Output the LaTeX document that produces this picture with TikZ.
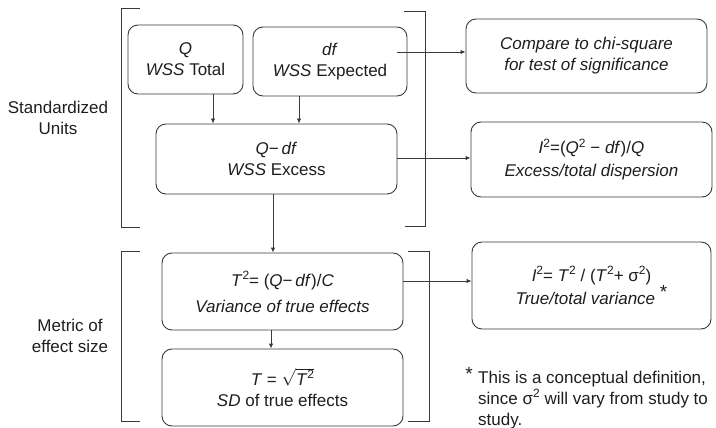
\documentclass[tikz,border=0pt]{standalone}
\usepackage{fontspec}
\setmainfont{Liberation Sans}
\usetikzlibrary{arrows.meta}
\definecolor{ink}{HTML}{1E1E1E}
\definecolor{edge}{HTML}{3A3A3A}
\newcommand{\sq}{\raisebox{0.40em}{\fontsize{12}{12}\selectfont 2}}
\newcommand{\myast}{\raisebox{0.36em}{\fontsize{19}{19}\selectfont\upshape *}}
\begin{document}
\begin{tikzpicture}[x=1pt,y=-1pt,
  every node/.style={text=ink, font=\fontsize{17}{21}\selectfont},
  box/.style={draw=edge, line width=0.9pt, rounded corners=10pt, align=center, inner sep=0pt},
  arr/.style={draw=edge, line width=0.9pt, -{Latex[length=5pt,width=4.5pt]}},
  brk/.style={draw=edge, line width=0.9pt},
  lbl/.style={align=center, inner sep=0pt}]
\useasboundingbox (0,0) rectangle (716,428);

% boxes
\node[box, minimum width=115pt, minimum height=69pt] (Q) at (185.5,59.5) {\textit{Q}\\\textit{WSS} Total};
\node[box, minimum width=154pt, minimum height=69pt] (df) at (330,61.5) {\textit{df}\\\textit{WSS} Expected};
\node[box, minimum width=241pt, minimum height=70pt] (X) at (276.5,159) {\textit{Q}−\,\textit{df}\\\textit{WSS} Excess};
\node[box, minimum width=241pt, minimum height=77pt] (T2) at (282.5,291.5) {\textit{T}\sq= (\textit{Q}−\,\textit{df})/\textit{C}\\[5pt]\textit{Variance of true effects}};
\node[box, minimum width=241pt, minimum height=77pt] (T) at (282.5,387.5) {\textit{T} = $\sqrt{\mbox{\textit{T}\sq}}$\\\textit{SD} of true effects};
\node[box, minimum width=241pt, minimum height=74pt] (chi) at (586.5,56) {\textit{Compare to chi-square}\\\textit{for test of significance}};
\node[box, minimum width=241pt, minimum height=75pt] (Ia) at (591.5,159.5) {\textit{I}\sq=(\textit{Q}\sq\ − \textit{df})/\textit{Q}\\[2pt]\textit{Excess/total dispersion}};
\node[box, minimum width=239pt, minimum height=87pt] (Ib) at (591.5,285.5) {\textit{I}\sq= \textit{T}\sq\ / (\textit{T}\sq+ σ\sq)\\\textit{True/total variance} \myast};

% side labels
\node[lbl] (lab1) at (58,117.5) {Standardized\\Units};
\node[lbl] (lab2) at (70,335.5) {Metric of\\effect size};

% footnote
\node[inner sep=0pt, font=\fontsize{19}{19}\selectfont] (star) at (469,374) {*};
\node[lbl, align=left, anchor=north west] (foot) at (478,371) {This is a conceptual definition,\\since σ\sq\ will vary from study to\\study.};

% arrow guide coordinates
\coordinate (qx) at (213,0);
\coordinate (dx) at (299,0);
\coordinate (xx) at (273,0);
\coordinate (tx) at (271,0);
\coordinate (cy) at (0,52);
\coordinate (iy) at (0,158);
\coordinate (jy) at (0,281);

% connectors
\draw[arr] (Q.south -| qx) -- (X.north -| qx);
\draw[arr] (df.south -| dx) -- (X.north -| dx);
\draw[arr] ([xshift=-10pt]df.east |- cy) -- (chi.west |- cy);
\draw[arr] (X.east |- iy) -- (Ia.west |- iy);
\draw[arr] (X.south -| xx) -- (T2.north -| xx);
\draw[arr] (T2.east |- jy) -- (Ib.west |- jy);
\draw[arr] (T2.south -| tx) -- (T.north -| tx);

% brackets
\draw[brk] (140,8) -- (121,8) -- (121,227) -- (140,227);
\draw[brk] (404,11) -- (425,11) -- (425,226) -- (405,226);
\draw[brk] (140,251) -- (121,251) -- (121,421) -- (140,421);
\draw[brk] (408,251) -- (429,251) -- (429,421) -- (408,421);
\end{tikzpicture}
\end{document}
